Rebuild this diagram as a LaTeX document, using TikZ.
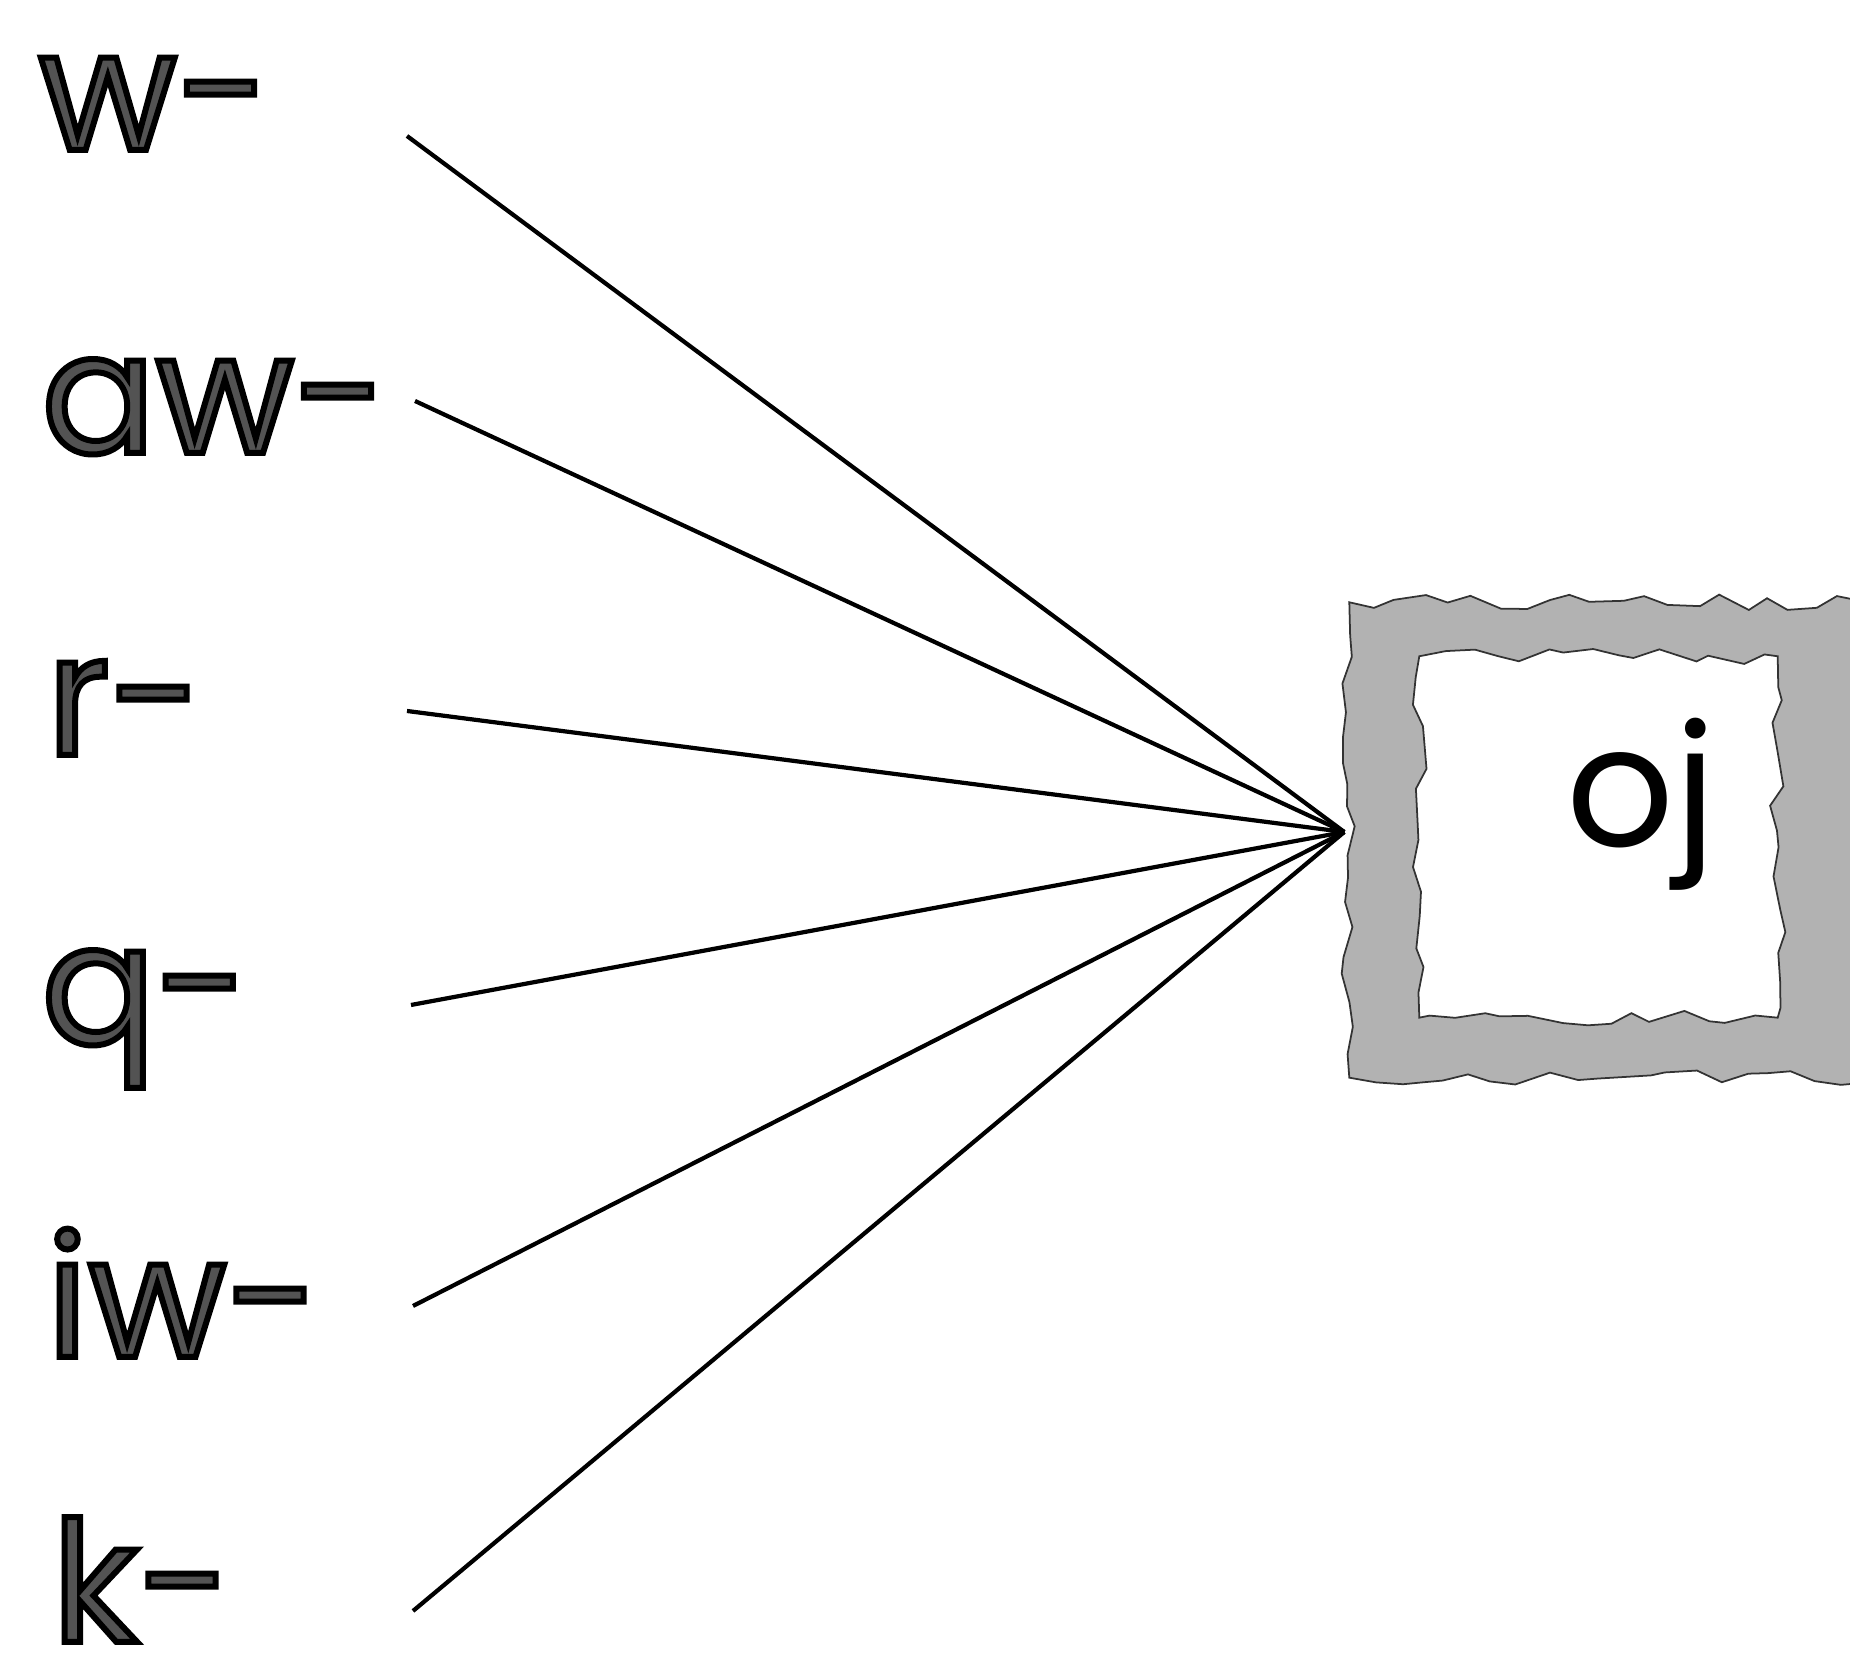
\documentclass[tikz,border=0pt]{standalone}
\usepackage{fontspec}
\setmainfont{Poppins}
\usetikzlibrary{positioning,calc,decorations.pathmorphing}

% outlined gray letters: fill and stroke text render mode
\newcommand{\prefixtext}[1]{{\color{gray!65!black}\special{pdf:literal direct 0 G 2 Tr 1.7 w}#1\special{pdf:literal direct 0 Tr}}}

\tikzset{
  prefixlabel/.style={anchor=base west, inner sep=0pt, font=\fontsize{48}{56}\selectfont},
  link/.style={line width=1.2pt},
  band/.style={fill=gray!60, draw=black!80, line width=0.5pt, even odd rule,
    decoration={random steps, segment length=7pt, amplitude=2.2pt}}
}

\begin{document}
\begin{tikzpicture}
    \useasboundingbox (0,0) rectangle (18.5,16.66);
    \clip (0,0) rectangle (18.5,16.66);
    \pgfmathsetseed{7}

    % Prefix labels on the left
    \node[prefixlabel] (w)  at (0.38,15.16) {\prefixtext{w-}};
    \node[prefixlabel] (aw) at (0.41,12.13) {\prefixtext{aw-}};
    \node[prefixlabel] (r)  at (0.46,9.11)  {\prefixtext{r-}};
    \node[prefixlabel] (q)  at (0.41,6.22)  {\prefixtext{q-}};
    \node[prefixlabel] (iw) at (0.46,3.09)  {\prefixtext{iw-}};
    \node[prefixlabel] (k)  at (0.51,0.24)  {\prefixtext{k-}};

    % Start points of the links
    \coordinate (sw)  at (4.07,15.30);
    \coordinate (saw) at (4.15,12.65);
    \coordinate (sr)  at (4.07,9.55);
    \coordinate (sq)  at (4.11,6.61);
    \coordinate (siw) at (4.13,3.60);
    \coordinate (sk)  at (4.13,0.55);

    % Jagged frame on the right
    \node[minimum width=5.4cm, minimum height=4.74cm, inner sep=0pt] (box) at (16.2,8.26) {};
    \path[band] decorate {(box.south west) rectangle (box.north east)
      ([shift={(0.7,0.6)}]box.south west) rectangle ([shift={(-1.13,-0.54)}]box.north east)};
    \node[anchor=base west, inner sep=0pt, font=\fontsize{48}{56}\selectfont] (oj) at (15.66,8.19) {oj};
    \coordinate (hub) at ([shift={(-0.05,0.08)}]box.west);

    % Links
    \draw[link] (sw) -- (hub);
    \draw[link] (saw) -- (hub);
    \draw[link] (sr) -- (hub);
    \draw[link] (sq) -- (hub);
    \draw[link] (siw) -- (hub);
    \draw[link] (sk) -- (hub);
\end{tikzpicture}
\end{document}
